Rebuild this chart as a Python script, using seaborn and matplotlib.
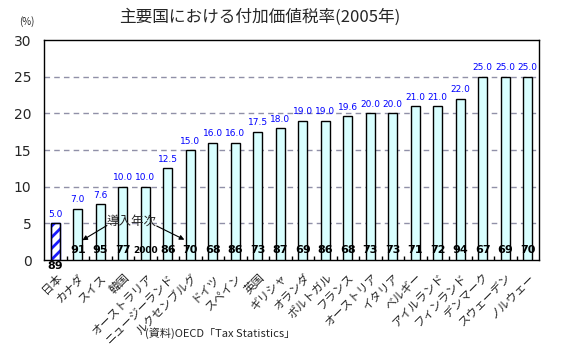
import matplotlib
matplotlib.use("Agg")
import matplotlib.pyplot as plt
import seaborn as sns
import pandas as pd
import numpy as np

countries = ["日本", "カナダ", "スイス", "韓国", "オーストラリア", "ニュージーランド",
             "ルクセンブルグ", "ドイツ", "スペイン", "英国", "ギリシャ", "オランダ",
             "ポルトガル", "フランス", "オーストリア", "イタリア", "ベルギー",
             "アイルランド", "フィンランド", "デンマーク", "スウェーデン", "ノルウェー"]
rates = [5.0, 7.0, 7.6, 10.0, 10.0, 12.5, 15.0, 16.0, 16.0, 17.5, 18.0, 19.0,
         19.0, 19.6, 20.0, 20.0, 21.0, 21.0, 22.0, 25.0, 25.0, 25.0]
years = ["89", "91", "95", "77", "2000", "86", "70", "68", "86", "73", "87", "69",
         "86", "68", "73", "73", "71", "72", "94", "67", "69", "70"]

sns.set_theme(style="white")
plt.rcParams["font.family"] = ["Noto Sans CJK JP", "DejaVu Sans"]
plt.rcParams["hatch.linewidth"] = 2.0

df = pd.DataFrame({"country": countries, "rate": rates})

fig = plt.figure(figsize=(5.73, 3.44), dpi=100)
ax = fig.add_axes([44 / 573, 1 - 260 / 344, 495 / 573, 220 / 344])

sns.barplot(data=df, x="country", y="rate", ax=ax, width=0.4,
            color="#d9ffff", edgecolor="black", linewidth=1.0, saturation=1, zorder=3)

# Japan bar: hatched
p0 = ax.patches[0]
p0.set_facecolor("white")
p0.set_hatch("///")
p0.set_edgecolor("#1a1aff")
ax.add_patch(plt.Rectangle((p0.get_x(), 0), p0.get_width(), p0.get_height(),
                           fill=False, edgecolor="black", linewidth=1.0, zorder=4))

ax.set_xlim(-0.5, len(countries) - 0.5)
ax.set_ylim(0, 30)
ax.set_yticks(range(0, 31, 5))
ax.set_yticklabels([str(v) for v in range(0, 31, 5)], fontsize=10, family="DejaVu Sans")
ax.tick_params(axis="y", length=0, pad=9)
ax.set_xlabel("")
ax.set_ylabel("")
for y in range(5, 30, 5):
    ax.axhline(y, color="#9090a8", linestyle=(0, (4, 3)), linewidth=1.0, zorder=1)

for s in ax.spines.values():
    s.set_color("black")
    s.set_linewidth(1.0)

ax.set_xticks(range(len(countries)))
ax.set_xticklabels(countries, rotation=45, ha="right", rotation_mode="anchor",
                   fontsize=8.3)
ax.tick_params(axis="x", length=0, pad=8)
ax.set_xticks(np.arange(0.5, len(countries) - 0.5, 1), minor=True)
ax.tick_params(axis="x", which="minor", direction="in", length=3, width=1, color="black",
               bottom=True)

for i, (r, yr) in enumerate(zip(rates, years)):
    ax.text(i, r + 0.6, f"{r:.1f}", ha="center", va="bottom", fontsize=6.5,
            color="#0000ff", family="DejaVu Sans", zorder=5)
    if i == 0:
        ax.text(i, -0.15, yr, ha="center", va="top", fontsize=8, fontweight="bold",
                color="black", family="DejaVu Sans", zorder=5)
    else:
        ax.text(i, 1.3, yr, ha="center", va="center", fontsize=8 if len(yr) < 3 else 6.5,
                fontweight="bold", color="black", family="DejaVu Sans", zorder=5)

ax.text(3.4, 5.3, "導入年次", ha="center", va="center", fontsize=9, zorder=5)
ax.annotate("", xy=(1.1, 2.5), xytext=(2.4, 4.9),
            arrowprops=dict(arrowstyle="-|>", color="black", lw=0.8, mutation_scale=7))
ax.annotate("", xy=(5.85, 2.6), xytext=(4.4, 4.8),
            arrowprops=dict(arrowstyle="-|>", color="black", lw=0.8, mutation_scale=7))

fig.text(260 / 573, 1 - 17 / 344, "主要国における付加価値税率(2005年)", ha="center",
         va="center", fontsize=12)
fig.text(27 / 573, 1 - 22 / 344, "(%)", ha="center", va="center", fontsize=7)
fig.text(220 / 573, 1 - 333 / 344, "(資料)OECD「Tax Statistics」", ha="center",
         va="center", fontsize=8)

fig.savefig("out.png", dpi=100)
